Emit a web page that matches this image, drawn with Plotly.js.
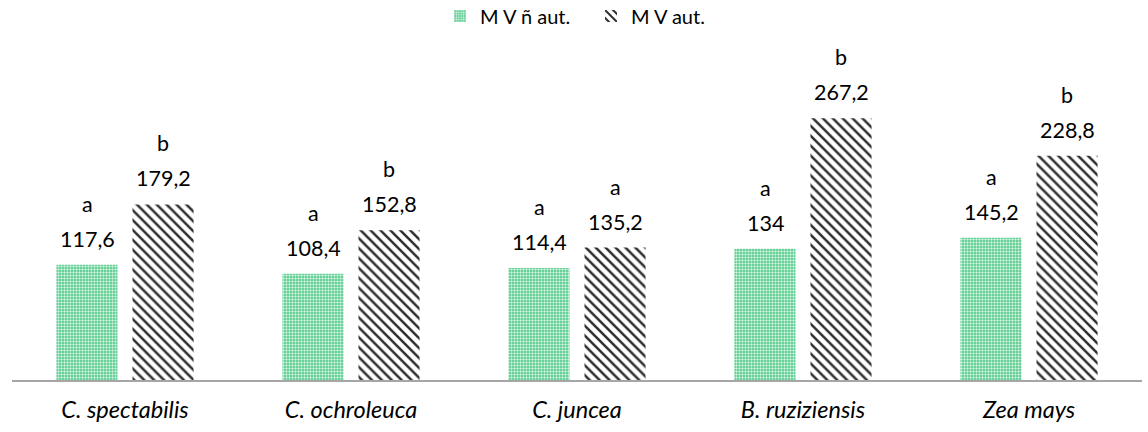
<!DOCTYPE html>
<html>
<head>
<meta charset="utf-8">
<script src="https://cdn.plot.ly/plotly-3.0.1.min.js"></script>
<style>
  html, body { margin: 0; padding: 0; background: #fff; }
  #chart { width: 1148px; height: 432px; }
</style>
</head>
<body>
<div id="chart"></div>
<script>
// Species
const categories = ['C. spectabilis', 'C. ochroleuca', 'C. juncea', 'B. ruziziensis', 'Zea mays'];
// M V ñ aut. series
const valuesNotAut = [117.6, 108.4, 114.4, 134, 145.2];
const lettersNotAut = ['a', 'a', 'a', 'a', 'a'];
// M V aut. series
const valuesAut = [179.2, 152.8, 135.2, 267.2, 228.8];
const lettersAut = ['b', 'b', 'a', 'b', 'b'];

const FONT = 'Lato, "Open Sans", sans-serif';
const fmt = v => String(v).replace('.', ',');

const traceNotAut = {
  type: 'bar',
  name: 'M V ñ aut.',
  x: categories,
  y: valuesNotAut,
  marker: {
    color: '#45c783',
    line: { width: 0 },
    pattern: { shape: '.', fgcolor: '#d2f2df', bgcolor: '#45c783', size: 3, solidity: 0.5, fillmode: 'replace' }
  },
  hoverinfo: 'skip'
};

const traceAut = {
  type: 'bar',
  name: 'M V aut.',
  x: categories,
  y: valuesAut,
  marker: {
    color: '#ffffff',
    line: { width: 0 },
    pattern: { shape: '\\', fgcolor: '#2e2e2e', bgcolor: '#ffffff', size: 7, solidity: 0.36, fillmode: 'replace' }
  },
  hoverinfo: 'skip'
};

// Value and significance-letter labels above each bar
const annotations = [];
function addLabels(vals, letters, dx) {
  vals.forEach((v, i) => {
    annotations.push({
      x: categories[i], y: v, xref: 'x', yref: 'y',
      text: fmt(v), showarrow: false, xshift: dx, yshift: 26,
      yanchor: 'middle', font: { family: FONT, size: 21.5, color: '#000' }
    });
    annotations.push({
      x: categories[i], y: v, xref: 'x', yref: 'y',
      text: letters[i], showarrow: false, xshift: dx, yshift: 61,
      yanchor: 'middle', font: { family: FONT, size: 21.5, color: '#000' }
    });
  });
}
addLabels(valuesNotAut, lettersNotAut, -38);
addLabels(valuesAut, lettersAut, 38);

const layout = {
  width: 1148,
  height: 432,
  margin: { l: 12, r: 6, t: 40, b: 52 },
  paper_bgcolor: '#ffffff',
  plot_bgcolor: '#ffffff',
  font: { family: FONT, color: '#000' },
  barmode: 'group',
  bargap: 0.327,
  bargroupgap: 0.197,
  showlegend: true,
  legend: {
    orientation: 'h', xref: 'container', yref: 'container',
    x: 440 / 1148, xanchor: 'left', y: 1 - 16 / 432, yanchor: 'middle',
    font: { family: FONT, size: 20, color: '#000' },
    itemwidth: 30,
    entrywidth: 106
  },
  xaxis: {
    type: 'category',
    showline: true, linecolor: '#a6a6a6', linewidth: 1.5,
    ticks: '', showgrid: false, zeroline: false,
    tickfont: { family: FONT, size: 23.5, color: '#000', style: 'italic' },
    ticklabelstandoff: 8,
    fixedrange: true
  },
  yaxis: {
    range: [0, 347], visible: false, showgrid: false, zeroline: false, fixedrange: true
  },
  annotations: annotations
};

Plotly.newPlot('chart', [traceNotAut, traceAut], layout, { displayModeBar: false, staticPlot: true });
</script>
</body>
</html>
